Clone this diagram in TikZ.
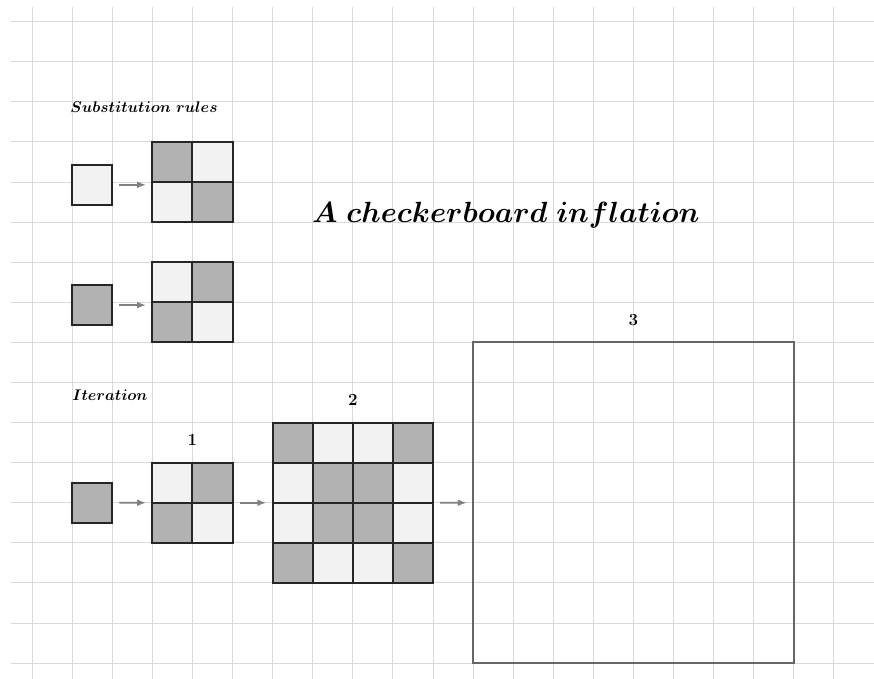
\documentclass[tikz,border=0pt]{standalone}
\usepackage{tikz}
\usetikzlibrary{arrows.meta,positioning,fit}

\begin{document}
\begin{tikzpicture}[
    gridline/.style={draw=gray!30, line width=0.7pt},
    cell/.style={draw=black!85, line width=1.4pt, minimum size=1cm, inner sep=0pt, outer sep=0pt},
    lite/.style={cell, fill=gray!10},
    dark/.style={cell, fill=gray!60},
    blk/.style={inner sep=0pt, outer sep=0pt},
    arr/.style={-{Latex[length=2.2mm,width=1.7mm]}, gray, line width=1.1pt, shorten <=1.8mm, shorten >=1.6mm},
    hdr/.style={font=\fontsize{11.4}{14}\selectfont\boldmath, inner sep=0pt, anchor=west},
    ttl/.style={font=\huge\boldmath},
    num/.style={font=\large\bfseries}
  ]
    \useasboundingbox (-0.8,-0.39) rectangle (21.0,16.54);
    \draw[gridline] (-0.52,-0.39) grid (21.0,16.36);

    % substitution rules
    \node[hdr] (subst) at (0.95,13.87) {$Substitution\ rules$};

    \node[lite] (s1) at (1.5,11.93) {};
    \foreach \i/\j/\f in {0/1/dark,1/1/lite,0/0/lite,1/0/dark}
      \node[\f] (r1-\i-\j) at (3.5+\i,11.5+\j) {};
    \node[blk, fit=(r1-0-0)(r1-1-1)] (rule1) {};

    \node[dark] (s2) at (1.5,8.93) {};
    \foreach \i/\j/\f in {0/1/lite,1/1/dark,0/0/dark,1/0/lite}
      \node[\f] (r2-\i-\j) at (3.5+\i,8.5+\j) {};
    \node[blk, fit=(r2-0-0)(r2-1-1)] (rule2) {};

    \draw[arr] (s1) -- (s1 -| rule1.west);
    \draw[arr] (s2) -- (s2 -| rule2.west);

    \node[ttl] (title) at (11.82,11.18) {$A\ checkerboard\ inflation$};

    % iteration
    \node[hdr] (iter) at (1,6.69) {$Iteration$};

    \node[dark] (it0) at (1.5,4) {};
    \foreach \i/\j/\f in {0/1/lite,1/1/dark,0/0/dark,1/0/lite}
      \node[\f] (c1-\i-\j) at (3.5+\i,3.5+\j) {};
    \node[blk, fit=(c1-0-0)(c1-1-1)] (it1) {};

    \foreach \i/\j/\f in {0/3/dark,1/3/lite,2/3/lite,3/3/dark,
                          0/2/lite,1/2/dark,2/2/dark,3/2/lite,
                          0/1/lite,1/1/dark,2/1/dark,3/1/lite,
                          0/0/dark,1/0/lite,2/0/lite,3/0/dark}
      \node[\f] (c2-\i-\j) at (6.5+\i,2.5+\j) {};
    \node[blk, fit=(c2-0-0)(c2-3-3)] (it2) {};

    \node[draw=black!60, line width=1.3pt, minimum size=8cm, inner sep=0pt, outer sep=0pt] (it3) at (15,4) {};

    \node[num, above=3mm of it1] (n1) {1};
    \node[num, above=3mm of it2] (n2) {2};
    \node[num, above=3mm of it3] (n3) {3};

    \draw[arr] (it0) -- (it1);
    \draw[arr] (it1) -- (it2);
    \draw[arr] (it2) -- (it3);
  \end{tikzpicture}
\end{document}
